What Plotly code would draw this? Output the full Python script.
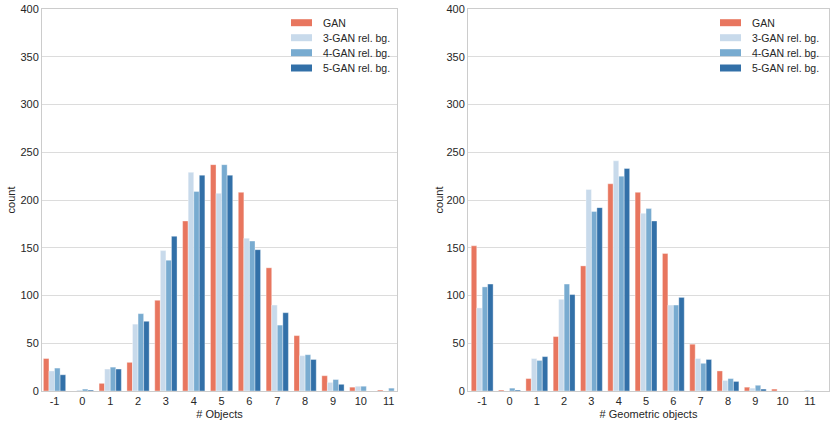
import plotly.graph_objects as go
from plotly.subplots import make_subplots

categories = [-1, 0, 1, 2, 3, 4, 5, 6, 7, 8, 9, 10, 11]
series_names = ["GAN", "3-GAN rel. bg.", "4-GAN rel. bg.", "5-GAN rel. bg."]

# Left panel: # Objects
obj_gan = [34, 0, 8, 30, 95, 178, 237, 208, 129, 58, 16, 4, 1]
obj_3gan = [21, 1, 23, 70, 147, 229, 207, 160, 90, 37, 9, 5, 0]
obj_4gan = [24, 2, 25, 81, 137, 209, 237, 157, 69, 38, 12, 5, 3]
obj_5gan = [17, 1, 23, 73, 162, 226, 226, 148, 82, 33, 7, 0, 0]

# Right panel: # Geometric objects
geo_gan = [152, 1, 13, 57, 131, 217, 208, 144, 49, 21, 4, 2, 0]
geo_3gan = [87, 0, 34, 96, 211, 241, 186, 90, 34, 11, 3, 0, 1]
geo_4gan = [109, 3, 32, 112, 188, 225, 191, 90, 29, 13, 6, 0, 0]
geo_5gan = [112, 1, 36, 101, 192, 233, 178, 98, 33, 10, 2, 0, 0]

y_ticks = [0, 50, 100, 150, 200, 250, 300, 350, 400]

colors = ["#e8765f", "#c8daeb", "#78abd0", "#3270a8"]

W, H = 830, 425
ML, MR, MT, MB = 42, 1, 9, 34
PW = W - ML - MR
PH = H - MT - MB


def px2x(px):
    return (px - ML) / PW


def px2y(py):
    return (H - MB - py) / PH


fig = make_subplots(rows=1, cols=2, horizontal_spacing=0.0)

left_series = [obj_gan, obj_3gan, obj_4gan, obj_5gan]
right_series = [geo_gan, geo_3gan, geo_4gan, geo_5gan]

for col, data in ((1, left_series), (2, right_series)):
    for name, vals, c in zip(series_names, data, colors):
        fig.add_trace(
            go.Bar(
                x=categories, y=vals, name=name,
                marker=dict(color=c, line=dict(color="rgba(255,255,255,0.6)", width=0.6)),
                showlegend=False,
            ),
            row=1, col=col,
        )

text_color = "#262626"
font_family = "Liberation Sans, Arial, sans-serif"

axis_common = dict(
    showgrid=True, gridcolor="#dcdcdc", gridwidth=1,
    showline=True, linecolor="#cccccc", linewidth=1, mirror=True,
    zeroline=False, ticks="",
    tickfont=dict(size=11, color=text_color, family=font_family),
)

fig.update_xaxes(
    **axis_common, tickmode="array", tickvals=categories,
    ticktext=[str(c) for c in categories],
)
fig.update_yaxes(
    **axis_common, tickmode="array", tickvals=y_ticks, range=[0, 400],
)

fig.update_xaxes(showgrid=False)
fig.update_xaxes(domain=[px2x(42), px2x(397)], range=[-1.45, 11.3],
                 title=dict(text="# Objects", standoff=4,
                            font=dict(size=11, color=text_color, family=font_family)),
                 row=1, col=1)
fig.update_xaxes(domain=[px2x(468), 1.0], range=[-1.52, 11.7],
                 title=dict(text="# Geometric objects", standoff=4,
                            font=dict(size=11, color=text_color, family=font_family)),
                 row=1, col=2)
fig.update_yaxes(title=dict(text="count", standoff=2,
                            font=dict(size=11, color=text_color, family=font_family)),
                 row=1, col=1)
fig.update_yaxes(title=dict(text="count", standoff=0,
                            font=dict(size=11, color=text_color, family=font_family)),
                 row=1, col=2)

# Manual legends (one per panel)
shapes = []
annotations = []
row_y = [22.7, 37.7, 52.7, 68.0]
for patch_x0 in (291, 720):
    for name, c, ry in zip(series_names, colors, row_y):
        shapes.append(dict(
            type="rect", xref="paper", yref="paper",
            x0=px2x(patch_x0), x1=px2x(patch_x0 + 21),
            y0=px2y(ry + 3.5), y1=px2y(ry - 3.5),
            fillcolor=c, line=dict(width=0),
        ))
        annotations.append(dict(
            xref="paper", yref="paper", x=px2x(patch_x0 + 30), y=px2y(ry),
            text=name, showarrow=False, xanchor="left", yanchor="middle",
            font=dict(size=10.5, color=text_color, family=font_family),
        ))

fig.update_layout(
    width=W, height=H,
    margin=dict(l=ML, r=MR, t=MT, b=MB),
    paper_bgcolor="white", plot_bgcolor="white",
    barmode="group", bargap=0.2, bargroupgap=0.0,
    font=dict(family=font_family, color=text_color, size=11),
    shapes=shapes, annotations=annotations,
)

fig.write_html(
    "out.html",
    config={"displayModeBar": False},
    post_script="document.body.style.margin='0';document.body.style.padding='0';document.body.style.overflow='hidden';",
)
